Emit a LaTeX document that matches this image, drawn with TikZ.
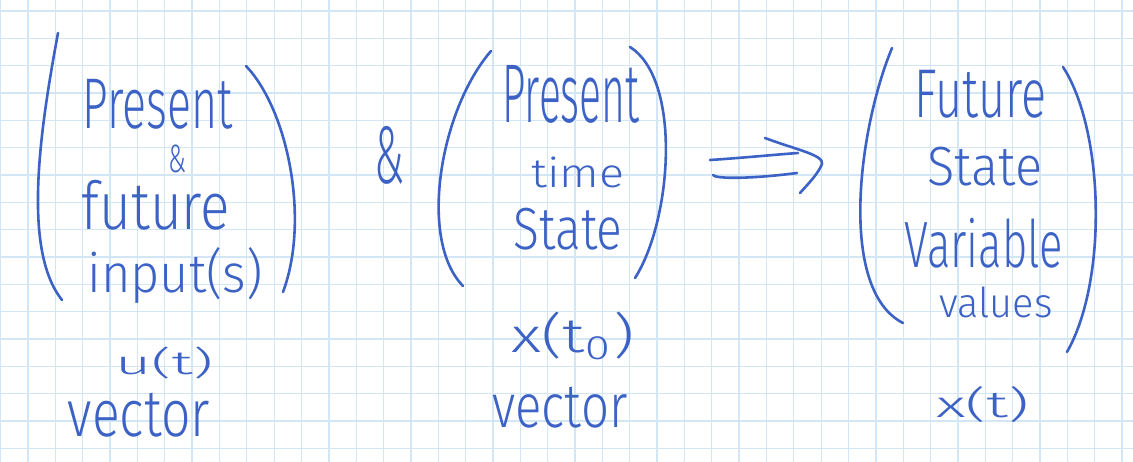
\documentclass[tikz,border=0pt]{standalone}
\usepackage{graphicx}
\usepackage{fontspec}
\setmainfont{Fira Sans Light}
\usetikzlibrary{calc}
\definecolor{ink}{HTML}{3B62C4}
\definecolor{gridc}{HTML}{D3E6F5}
\newcommand{\hw}[3]{\resizebox*{#1pt}{#2pt}{#3}}
\begin{document}
\begin{tikzpicture}[x=1pt,y=-1pt,
  hand/.style={draw=ink, line width=2.6pt, line cap=round, line join=round},
  txt/.style={text=ink, inner sep=0pt, anchor=center},
  gridline/.style={draw=gridc, line width=1.3pt}]
\fill[white] (0,0) rectangle (1133,462);
\useasboundingbox (0,0) rectangle (1133,462);
\foreach \k in {0,...,41} { \draw[gridline] ({0.65+27.35*\k},0) -- ({0.65+27.35*\k},462); }
\foreach \k in {0,...,16} { \draw[gridline] (0,{11+27.33*\k}) -- (1133,{11+27.33*\k}); }

% group 1 : inputs
\draw[hand] (58,33) .. controls (40,130) and (22,250) .. (62,300);
\draw[hand] (246,66) .. controls (288,110) and (310,220) .. (283,292);
\node[txt] (pres1) at (158,104) {\hw{150}{50}{Present}};
\node[txt] (amp1) at (177,159) {\hw{18}{28}{\&}};
\node[txt] (fut1) at (156,205) {\hw{148}{50}{future}};
\node[txt] (inp1) at (175,276) {\hw{175}{56}{input(s)}};
\node[txt] (ut) at (164,363) {\hw{98}{32}{u(t)}};
\node[txt] (vec1) at (139,415) {\hw{142}{44}{vector}};

% between
\node[txt] (amp2) at (389,155) {\hw{30}{58}{\&}};

% group 2 : present state
\draw[hand] (491,51) .. controls (440,110) and (418,240) .. (463,286);
\draw[hand] (630,47) .. controls (682,80) and (672,220) .. (635,278);
\node[txt] (pres2) at (571,94) {\hw{137}{58}{Present}};
\node[txt] (time) at (578,172) {\hw{93}{31}{time}};
\node[txt] (state2) at (568,229) {\hw{109}{42}{State}};
\node[txt] (xt0) at (573,336) {\hw{123}{48}{x(t\textsubscript{0})}};
\node[txt] (vec2) at (560,408) {\hw{135}{41}{vector}};

% arrow
\coordinate (arrS) at (711,169);
\coordinate (arrE) at (822,164);
\draw[hand] ($(arrS)+(-1,-9)$) .. controls ($(arrS)+(30,-11)$) and ($(arrS)+(60,-14)$) .. ($(arrS)+(87,-16)$);
\draw[hand] ($(arrS)+(2,6)$) .. controls ($(arrS)+(4,10)$) and ($(arrS)+(40,10)$) .. ($(arrS)+(86,4)$);
\draw[hand] ($(arrE)+(-57,-26)$) .. controls ($(arrE)+(-25,-14)$) and ($(arrE)+(2,-9)$) .. (arrE)
            .. controls ($(arrE)+(-4,10)$) and ($(arrE)+(-14,20)$) .. ($(arrE)+(-22,29)$);

% group 3 : future state
\draw[hand] (892,48) .. controls (858,130) and (838,290) .. (903,323);
\draw[hand] (1063,67) .. controls (1104,130) and (1108,280) .. (1067,352);
\node[txt] (fut3) at (981,94) {\hw{132}{48}{Future}};
\node[txt] (state3) at (985,167) {\hw{115}{39}{State}};
\node[txt] (var) at (984,243) {\hw{158}{50}{Variable}};
\node[txt] (vals) at (996,302) {\hw{113}{31}{values}};
\node[txt] (xt) at (983,405) {\hw{93}{36}{x(t)}};
\end{tikzpicture}
\end{document}
